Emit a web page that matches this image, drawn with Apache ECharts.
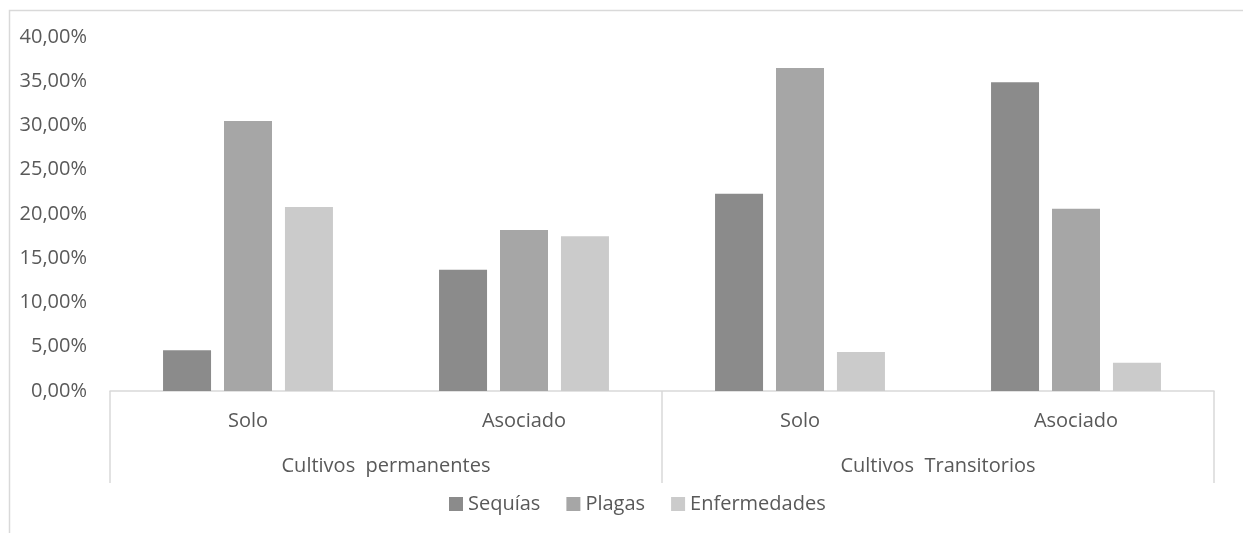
<!DOCTYPE html>
<html>
<head>
<meta charset="utf-8">
<script src="https://cdn.jsdelivr.net/npm/echarts@6/dist/echarts.min.js"></script>
<style>
  html, body { margin: 0; padding: 0; background: #fff; }
  #chart { width: 1243px; height: 533px; }
</style>
</head>
<body>
<div id="chart"></div>
<script>
// datos (en %)
var categorias = ["Solo", "Asociado", "Solo", "Asociado"];
var grupos = ["Cultivos  permanentes", "Cultivos  Transitorios"];
var seriesNombres = ["Sequías", "Plagas", "Enfermedades"];
var sequias = [4.6, 13.7, 22.3, 34.9];
var plagas = [30.5, 18.2, 36.5, 20.6];
var enfermedades = [20.8, 17.5, 4.4, 3.2];
var colores = ["#8b8b8b", "#a6a6a6", "#cbcbcb"];

var chart = echarts.init(document.getElementById("chart"));
var fuente = "Open Sans";
var gris = "#595959";
var linea = "#d9d9d9";

var valores = [sequias, plagas, enfermedades];
var series = seriesNombres.map(function (n, i) {
  return {
    name: n,
    type: "bar",
    xAxisIndex: 0,
    barWidth: 48,
    barGap: "27%",
    itemStyle: { color: colores[i] },
    data: valores[i]
  };
});

var option = {
  animation: false,
  grid: { left: 110, right: 29, top: 37, bottom: 142 },
  graphic: [
    {
      type: "rect",
      shape: { x: 9.5, y: 10.5, width: 1300, height: 600 },
      style: { fill: "none", stroke: linea, lineWidth: 1.5 },
      silent: true
    }
  ],
  legend: {
    data: seriesNombres,
    left: 444,
    top: 489,
    icon: "rect",
    itemWidth: 14,
    itemHeight: 14,
    itemGap: 26,
    textStyle: { fontFamily: fuente, fontSize: 20, color: gris }
  },
  xAxis: [
    {
      type: "category",
      data: categorias,
      axisLine: { show: true, lineStyle: { color: linea, width: 1.5 } },
      axisTick: { show: false },
      axisLabel: { margin: 20, fontFamily: fuente, fontSize: 20, color: gris }
    },
    {
      type: "category",
      data: grupos,
      position: "bottom",
      axisLine: { show: false },
      axisTick: { show: true, length: 92, lineStyle: { color: linea, width: 1.5 } },
      axisLabel: { margin: 65, fontFamily: fuente, fontSize: 20, color: gris }
    }
  ],
  yAxis: {
    type: "value",
    min: 0,
    max: 40,
    interval: 5,
    axisLine: { show: false },
    axisTick: { show: false },
    splitLine: { show: false },
    axisLabel: {
      margin: 23,
      fontFamily: fuente,
      fontSize: 20,
      color: gris,
      formatter: function (v) { return v.toFixed(2).replace(".", ",") + "%"; }
    }
  },
  series: series
};

chart.setOption(option);
</script>
</body>
</html>
